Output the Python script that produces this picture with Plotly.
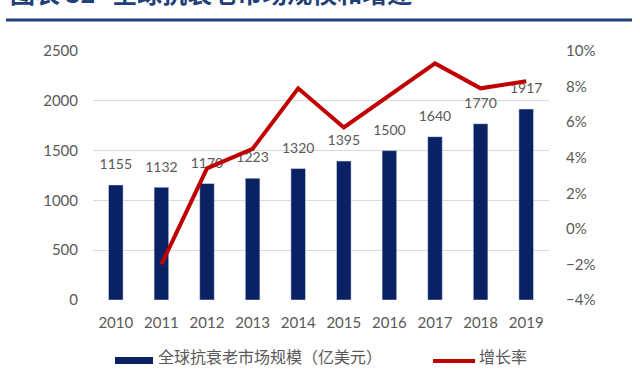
import plotly.graph_objects as go

years = ["2010", "2011", "2012", "2013", "2014", "2015", "2016", "2017", "2018", "2019"]
market_size = [1155, 1132, 1170, 1223, 1320, 1395, 1500, 1640, 1770, 1917]
growth_years = ["2011", "2012", "2013", "2014", "2015", "2016", "2017", "2018", "2019"]
growth_rate = [-2.0, 3.4, 4.5, 7.9, 5.7, 7.5, 9.3, 7.9, 8.3]

bar_name = "全球抗衰老市场规模（亿美元）"
line_name = "增长率"
title_text = "图表 32   全球抗衰老市场规模和增速"

W, H = 640, 372
L, R, T, B = 93, 91, 51, 72
PW, PH = W - L - R, H - T - B

def px(x):
    return (x - L) / PW

def py(y):
    return (H - B - y) / PH

NAVY = "#0A2264"
RED = "#C00000"
GRAY = "#595959"
FONT = "Lato"
CJK = "Noto Sans CJK SC"

fig = go.Figure()
fig.add_trace(go.Bar(
    x=years, y=market_size, name=bar_name, marker_color=NAVY,
    width=0.32, showlegend=False, hoverinfo="skip",
))
fig.add_trace(go.Scatter(
    x=years, y=market_size, mode="markers+text", text=[str(v) for v in market_size],
    marker=dict(size=18, color="rgba(0,0,0,0)"),
    textposition="top center", textfont=dict(family=FONT, size=14, color=GRAY),
    showlegend=False, cliponaxis=False, hoverinfo="skip",
))
fig.add_trace(go.Scatter(
    x=growth_years, y=growth_rate, name=line_name, mode="lines",
    line=dict(color=RED, width=4), yaxis="y2", showlegend=False, cliponaxis=False,
))

shapes = [
    dict(type="line", xref="paper", yref="paper", x0=px(6), x1=px(632), y0=py(20), y1=py(20),
         line=dict(color="#1F3F78", width=3)),
    dict(type="rect", xref="paper", yref="paper", x0=px(115), x1=px(153), y0=py(364), y1=py(357),
         fillcolor=NAVY, line=dict(width=0)),
    dict(type="line", xref="paper", yref="paper", x0=px(433), x1=px(475), y0=py(361), y1=py(361),
         line=dict(color=RED, width=4)),
]
annotations = [
    dict(xref="paper", yref="paper", x=px(8), y=py(-8), xanchor="left", yanchor="middle",
         text="<b>" + title_text + "</b>", showarrow=False,
         font=dict(family=CJK, size=25, color="#1F3F78")),
    dict(xref="paper", yref="paper", x=px(156), y=py(356), xanchor="left", yanchor="middle",
         text=bar_name, showarrow=False, font=dict(family=CJK, size=16, color=GRAY)),
    dict(xref="paper", yref="paper", x=px(477), y=py(356), xanchor="left", yanchor="middle",
         text=line_name, showarrow=False, font=dict(family=CJK, size=16, color=GRAY)),
]

fig.update_layout(
    width=W, height=H,
    margin=dict(l=L, r=R, t=T, b=B, pad=0),
    paper_bgcolor="white", plot_bgcolor="white",
    shapes=shapes, annotations=annotations,
    showlegend=False,
    xaxis=dict(
        type="category", range=[-0.5, len(years) - 0.5], autorange=False,
        showgrid=False, showline=False, zeroline=False,
        tickfont=dict(family=FONT, size=15, color=GRAY), ticks="",
        ticklabelstandoff=12,
    ),
    yaxis=dict(
        range=[0, 2500], dtick=500, showgrid=True, gridcolor="#D9D9D9", gridwidth=1,
        zeroline=False, showline=False, tickfont=dict(family=FONT, size=15, color=GRAY),
        ticks="", ticklabelstandoff=14,
    ),
    yaxis2=dict(
        overlaying="y", side="right", range=[-4, 10], dtick=2, ticksuffix="%",
        showgrid=False, zeroline=False, showline=False,
        tickfont=dict(family=FONT, size=15, color=GRAY), ticks="", ticklabelstandoff=16,
    ),
)

fig.write_html(
    "out.html",
    config={"displayModeBar": False},
    post_script="document.body.style.margin='0';document.body.style.overflow='hidden';",
)
